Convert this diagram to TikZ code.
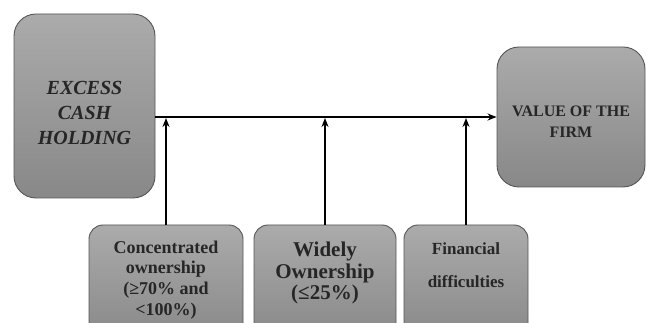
\documentclass[tikz,border=0pt]{standalone}
\usepackage{fontspec}
\setmainfont{Liberation Serif}
\usetikzlibrary{arrows.meta}
\definecolor{boxtop}{HTML}{ABABAB}
\definecolor{boxbot}{HTML}{888888}
\definecolor{boxline}{HTML}{555555}
\begin{document}
\begin{tikzpicture}[x=1pt,y=-1pt,
  box/.style={draw=boxline, line width=0.9pt, rounded corners=22pt, top color=boxtop, bottom color=boxbot, inner sep=0pt},
  sbox/.style={box, rounded corners=14pt},
  lbl/.style={align=center, inner sep=0pt, text=black!85},
  conn/.style={line width=1.5pt, -{Stealth[length=9pt,width=7pt]}}]
\useasboundingbox (0,0) rectangle (646,323);
\clip (0,0) rectangle (646,323);
% main boxes
\node[box, minimum width=141pt, minimum height=184pt] (ech) at (84.5,106) {};
\node[lbl, font=\bfseries\itshape\fontsize{20}{25}\selectfont] (echt) at (84.5,113) {EXCESS\\CASH\\HOLDING};
\node[box, minimum width=148pt, minimum height=140pt] (vf) at (571,117) {};
\node[lbl, font=\bfseries\fontsize{16}{21}\selectfont] (vft) at (571,122) {VALUE OF THE\\FIRM};
% bottom boxes
\node[sbox, minimum width=154pt, minimum height=116pt] (b1) at (166,283) {};
\node[lbl, font=\bfseries\fontsize{18}{20.7}\selectfont] (b1t) at (166,280) {Concentrated\\ownership\\(≥70\% and\\<100\%)};
\node[sbox, minimum width=142pt, minimum height=116pt] (b2) at (325,283) {};
\node[lbl, font=\bfseries\fontsize{21}{21.5}\selectfont] (b2t) at (325,273) {Widely\\Ownership\\(≤25\%)};
\node[sbox, minimum width=124pt, minimum height=116pt] (b3) at (466,283) {};
\node[lbl, font=\bfseries\fontsize{17}{33}\selectfont] (b3t) at (466,265) {Financial\\difficulties};
% connectors
\draw[conn] (ech.east |- vf.west) -- (vf.west);
\draw[conn, shorten >=1pt] (b1.north) -- (b1.north |- vf.west);
\draw[conn, shorten >=1pt] (b2.north) -- (b2.north |- vf.west);
\draw[conn, shorten >=1pt] (b3.north) -- (b3.north |- vf.west);
\end{tikzpicture}
\end{document}
